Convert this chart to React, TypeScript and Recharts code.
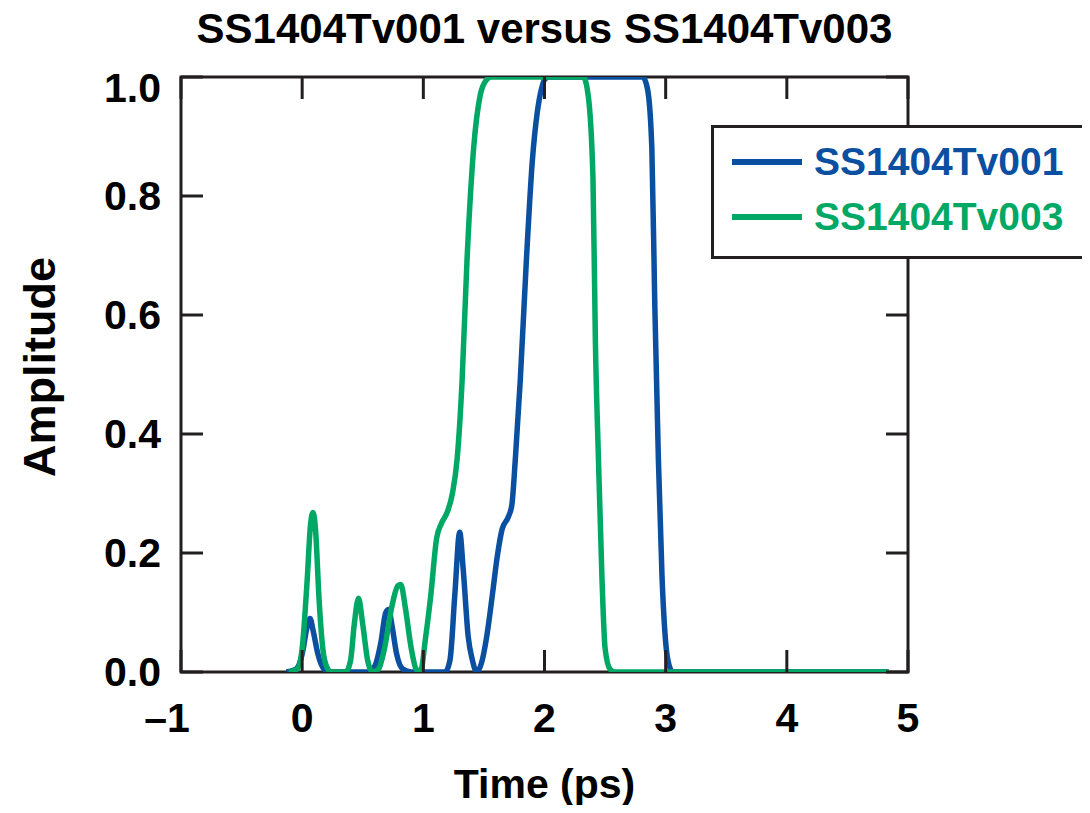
import React from 'react';
import { LineChart, Line, XAxis, YAxis, ReferenceArea, Legend } from 'recharts';

const TITLE = 'SS1404Tv001 versus SS1404Tv003';
const X_LABEL = 'Time (ps)';
const Y_LABEL = 'Amplitude';
const SERIES_A_NAME = 'SS1404Tv001';
const SERIES_B_NAME = 'SS1404Tv003';

const aTime = [-0.13, -0.05, 0.0, 0.04, 0.065, 0.09, 0.13, 0.18, 0.23, 0.55, 0.6, 0.65, 0.69, 0.715, 0.74, 0.78, 0.83, 0.9, 1.18, 1.22, 1.26, 1.3, 1.33, 1.37, 1.405, 1.44, 1.48, 1.525, 1.57, 1.61, 1.65, 1.7, 1.73, 1.76, 1.8, 1.85, 1.9, 1.94, 1.975, 2.005, 2.04, 2.81, 2.85, 2.886, 2.91, 2.94, 2.97, 3.0, 3.03, 3.06, 4.84];
const aAmp = [0, 0.005, 0.03, 0.075, 0.09, 0.07, 0.03, 0.005, 0, 0, 0.01, 0.05, 0.1, 0.105, 0.08, 0.03, 0.005, 0, 0, 0.02, 0.13, 0.235, 0.17, 0.06, 0.02, 0, 0.015, 0.062, 0.13, 0.194, 0.24, 0.26, 0.28, 0.36, 0.49, 0.69, 0.86, 0.94, 0.98, 0.997, 1.0, 1.0, 0.98, 0.88, 0.62, 0.357, 0.16, 0.05, 0.01, 0, 0];

const bTime = [-0.11, -0.04, 0.0, 0.04, 0.07, 0.09, 0.11, 0.14, 0.17, 0.2, 0.24, 0.36, 0.4, 0.43, 0.465, 0.5, 0.54, 0.58, 0.63, 0.68, 0.74, 0.79, 0.815, 0.85, 0.9, 0.94, 0.975, 1.02, 1.06, 1.11, 1.15, 1.2, 1.24, 1.28, 1.32, 1.36, 1.415, 1.47, 1.52, 1.56, 2.32, 2.36, 2.4, 2.42, 2.445, 2.474, 2.5, 2.54, 2.58, 4.84];
const bAmp = [0, 0.005, 0.04, 0.15, 0.25, 0.268, 0.24, 0.12, 0.04, 0.01, 0, 0, 0.02, 0.08, 0.124, 0.08, 0.02, 0, 0.005, 0.04, 0.11, 0.145, 0.147, 0.11, 0.04, 0.005, 0, 0.06, 0.126, 0.225, 0.25, 0.27, 0.3, 0.36, 0.49, 0.69, 0.88, 0.97, 0.995, 1.0, 1.0, 0.97, 0.83, 0.555, 0.36, 0.16, 0.04, 0.005, 0, 0];

const xTicks = [-1, 0, 1, 2, 3, 4, 5];
const yTicks = [0, 0.2, 0.4, 0.6, 0.8, 1.0];

const dataA = aTime.map((t, i) => ({ t, v: aAmp[i] }));
const dataB = bTime.map((t, i) => ({ t, v: bAmp[i] }));

const BLUE = '#0A4FA0';
const GREEN = '#00A866';
const FRAME = '#231f20';
const FONT = '"Liberation Sans", Arial, Helvetica, sans-serif';

const W = 1090;
const H = 813;
const PLOT_LEFT = 181;
const PLOT_RIGHT = 908;
const PLOT_TOP = 77;
const PLOT_BOTTOM = 672;
const TICK_LEN = 22;

const XTick = (props: any) => {
  const { x, payload } = props;
  const val = payload.value as number;
  const label = val < 0 ? '\u2013' + Math.abs(val) : String(val);
  return (
    <g>
      <line x1={x} x2={x} y1={PLOT_BOTTOM} y2={PLOT_BOTTOM - TICK_LEN} stroke={FRAME} strokeWidth={3} />
      <line x1={x} x2={x} y1={PLOT_TOP} y2={PLOT_TOP + TICK_LEN} stroke={FRAME} strokeWidth={3} />
      <text x={val < 0 ? x - 14 : x} y={732} textAnchor="middle" fontFamily={FONT} fontWeight="bold" fontSize={41} fill="#000">
        {label}
      </text>
    </g>
  );
};

const YTick = (props: any) => {
  const { y, payload } = props;
  const val = payload.value as number;
  const shift = val >= 1 ? 11 : 0;
  return (
    <g>
      <line x1={PLOT_LEFT} x2={PLOT_LEFT + TICK_LEN} y1={y} y2={y} stroke={FRAME} strokeWidth={3} />
      <line x1={PLOT_RIGHT} x2={PLOT_RIGHT - TICK_LEN} y1={y} y2={y} stroke={FRAME} strokeWidth={3} />
      <text x={161} y={y + 14 + shift} textAnchor="end" fontFamily={FONT} fontWeight="bold" fontSize={41} fill="#000">
        {val.toFixed(1)}
      </text>
    </g>
  );
};

const LegendBox = (props: any) => {
  const payload = props.payload || [];
  return (
    <div
      style={{
        border: `3px solid ${FRAME}`,
        width: 420,
        height: 134,
        boxSizing: 'border-box',
        background: '#fff',
        paddingTop: 6,
      }}
    >
      {payload.map((item: any) => (
        <div key={item.value} style={{ display: 'flex', alignItems: 'center', height: 55 }}>
          <svg width={100} height={20} style={{ display: 'block' }}>
            <line x1={18} x2={88} y1={10} y2={10} stroke={item.color} strokeWidth={6} />
          </svg>
          <span style={{ color: item.color, fontFamily: FONT, fontWeight: 'bold', fontSize: 39, lineHeight: '55px' }}>
            {item.value}
          </span>
        </div>
      ))}
    </div>
  );
};

export default function App() {
  return (
    <div style={{ position: 'relative', width: W, height: H, margin: -8, overflow: 'hidden', background: '#fff' }}>
      <div
        style={{
          position: 'absolute',
          left: PLOT_LEFT - 100,
          width: PLOT_RIGHT - PLOT_LEFT + 200,
          top: 5,
          textAlign: 'center',
          fontFamily: FONT,
          fontWeight: 'bold',
          fontSize: 42,
          lineHeight: '48px',
          color: '#000',
          whiteSpace: 'nowrap',
        }}
      >
        {TITLE}
      </div>
      <LineChart
        width={W}
        height={H}
        margin={{ top: PLOT_TOP, right: W - PLOT_RIGHT, bottom: 0, left: 0 }}
      >
        <XAxis
          xAxisId="x"
          dataKey="t"
          type="number"
          domain={[-1, 5]}
          ticks={xTicks}
          allowDataOverflow
          height={H - PLOT_BOTTOM}
          tickLine={false}
          axisLine={false}
          tick={<XTick />}
          interval={0}
        />
        <YAxis
          yAxisId="y"
          type="number"
          domain={[0, 1]}
          ticks={yTicks}
          allowDataOverflow
          width={PLOT_LEFT}
          tickLine={false}
          axisLine={false}
          tick={<YTick />}
          interval={0}
        />
        <ReferenceArea
          xAxisId="x"
          yAxisId="y"
          x1={-1}
          x2={5}
          y1={0}
          y2={1}
          fill="none"
          fillOpacity={0}
          stroke={FRAME}
          strokeWidth={3}
          ifOverflow="visible"
        />
        <Line
          xAxisId="x"
          yAxisId="y"
          data={dataA}
          dataKey="v"
          name={SERIES_A_NAME}
          type="monotone"
          stroke={BLUE}
          strokeWidth={5.5}
          dot={false}
          activeDot={false}
          isAnimationActive={false}
        />
        <Line
          xAxisId="x"
          yAxisId="y"
          data={dataB}
          dataKey="v"
          name={SERIES_B_NAME}
          type="monotone"
          stroke={GREEN}
          strokeWidth={5.5}
          dot={false}
          activeDot={false}
          isAnimationActive={false}
        />
        <Legend
          layout="horizontal"
          verticalAlign="middle"
          align="center"
          content={<LegendBox />}
          wrapperStyle={{ position: 'absolute', left: 711, top: 125, width: 420, height: 134 }}
        />
      </LineChart>
      <div
        style={{
          position: 'absolute',
          left: PLOT_LEFT,
          width: PLOT_RIGHT - PLOT_LEFT,
          top: 761,
          textAlign: 'center',
          fontFamily: FONT,
          fontWeight: 'bold',
          fontSize: 41,
          lineHeight: '46px',
          color: '#000',
        }}
      >
        {X_LABEL}
      </div>
      <div
        style={{
          position: 'absolute',
          left: 40,
          top: 367,
          transform: 'translate(-50%, -50%) rotate(-90deg)',
          fontFamily: FONT,
          fontWeight: 'bold',
          fontSize: 45,
          lineHeight: '48px',
          color: '#000',
          whiteSpace: 'nowrap',
        }}
      >
        {Y_LABEL}
      </div>
    </div>
  );
}
